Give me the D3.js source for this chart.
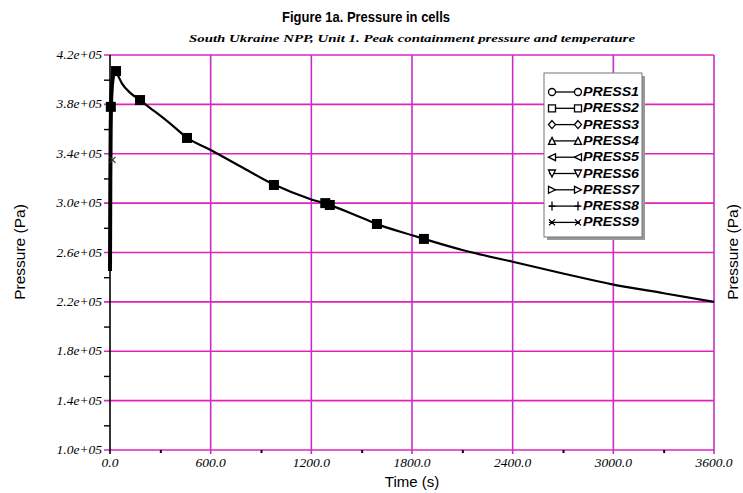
<!DOCTYPE html>
<html>
<head>
<meta charset="utf-8">
<script src="https://cdn.jsdelivr.net/npm/d3@7"></script>
<style>
  html, body { margin: 0; padding: 0; background: #fff; }
  svg { display: block; }
</style>
</head>
<body>
<svg id="chart" width="743" height="493"></svg>
<script>
// ---- data ----
const curveTime = [0, 2, 4, 6, 10, 15, 22, 30, 45, 71, 119, 179, 240, 298, 380, 459, 600, 800, 977, 1200, 1300, 1450, 1591, 1800, 1871, 2100, 2400, 2700, 3000, 3300, 3600];
const curvePressure = [2.45e5, 3.2e5, 3.6e5, 3.78e5, 3.92e5, 4.0e5, 4.05e5, 4.07e5, 4.04e5, 3.97e5, 3.895e5, 3.835e5, 3.77e5, 3.71e5, 3.62e5, 3.53e5, 3.43e5, 3.28e5, 3.15e5, 3.03e5, 2.99e5, 2.91e5, 2.83e5, 2.74e5, 2.71e5, 2.62e5, 2.525e5, 2.43e5, 2.34e5, 2.27e5, 2.20e5];
const markerTime = [5, 36, 179, 459, 977, 1283, 1310, 1591, 1871];
const markerPressure = [3.78e5, 4.07e5, 3.835e5, 3.528e5, 3.147e5, 3.0e5, 2.985e5, 2.831e5, 2.71e5];
const crossTime = [15];
const crossPressure = [3.35e5];
const seriesNames = ["PRESS1", "PRESS2", "PRESS3", "PRESS4", "PRESS5", "PRESS6", "PRESS7", "PRESS8", "PRESS9"];
const seriesSymbols = ["circle", "square", "diamond", "triangle", "left", "down", "right", "plus", "cross"];
const xTicks = [0, 600, 1200, 1800, 2400, 3000, 3600];
const xMinorTicks = [300, 900, 1500, 2100, 2700, 3300];
const yTicks = [1.0e5, 1.4e5, 1.8e5, 2.2e5, 2.6e5, 3.0e5, 3.4e5, 3.8e5, 4.2e5];
const yMinorTicks = [1.2e5, 1.6e5, 2.0e5, 2.4e5, 2.8e5, 3.2e5, 3.6e5, 4.0e5];
const titleText = "Figure 1a. Pressure in cells";
const subtitleText = "South Ukraine NPP, Unit 1. Peak containment pressure and temperature";
const xTitle = "Time (s)";
const yTitle = "Pressure (Pa)";

// ---- layout ----
const svg = d3.select("#chart");
const L = 110, R = 714, T = 55, B = 450;
const x = d3.scaleLinear().domain([0, 3600]).range([L, R]);
const y = d3.scaleLinear().domain([1.0e5, 4.2e5]).range([B, T]);
const hGrid = "#e024bd", vGrid = "#c82fc8";
const serif = "'Liberation Serif', 'DejaVu Serif', serif";
const sans = "'Liberation Sans', Arial, sans-serif";

// titles
svg.append("text").attr("x", 366).attr("y", 22).attr("text-anchor", "middle")
  .attr("font-family", sans).attr("font-weight", "bold").attr("font-size", 15)
  .attr("textLength", 168).attr("lengthAdjust", "spacingAndGlyphs")
  .text(titleText);
svg.append("text").attr("x", 412).attr("y", 42).attr("text-anchor", "middle")
  .attr("font-family", serif).attr("font-weight", "bold").attr("font-style", "italic").attr("font-size", 11)
  .attr("textLength", 446).attr("lengthAdjust", "spacingAndGlyphs")
  .text(subtitleText);

// grid
const g = svg.append("g");
g.selectAll(".hg").data(yTicks).join("line")
  .attr("x1", L - 6).attr("x2", R).attr("y1", d => y(d)).attr("y2", d => y(d))
  .attr("stroke", hGrid).attr("stroke-width", 1.6);
g.selectAll(".vg").data(xTicks.slice(1)).join("line")
  .attr("x1", d => x(d)).attr("x2", d => x(d)).attr("y1", T).attr("y2", B + 4)
  .attr("stroke", vGrid).attr("stroke-width", 1.6);

// axes
const yAxis = d3.axisLeft(y).tickValues(yMinorTicks).tickSize(6).tickFormat("");
const ya = svg.append("g").attr("transform", `translate(${L},0)`).call(yAxis);
ya.select(".domain").attr("stroke", "#000").attr("stroke-width", 1.6).attr("d", `M0,${T}V${B + 4}`);
ya.selectAll(".tick line").attr("stroke", "#000").attr("stroke-width", 1.4);

const xAxis = d3.axisBottom(x).tickValues(xMinorTicks).tickSize(3).tickFormat("");
const xa = svg.append("g").attr("transform", `translate(0,${B})`).call(xAxis);
xa.select(".domain").remove();
xa.selectAll(".tick line").attr("stroke", "#000").attr("stroke-width", 2);

// tick labels
svg.append("g").selectAll("text").data(yTicks).join("text")
  .attr("x", L - 8).attr("y", d => y(d) + 4).attr("text-anchor", "end")
  .attr("font-family", serif).attr("font-style", "italic").attr("font-size", 13.5)
  .text(d => (d / 1e5).toFixed(1) + "e+05");
svg.append("g").selectAll("text").data(xTicks).join("text")
  .attr("x", d => x(d)).attr("y", B + 17).attr("text-anchor", "middle")
  .attr("font-family", serif).attr("font-style", "italic").attr("font-size", 13.5)
  .text(d => d.toFixed(1));

// axis titles
svg.append("text").attr("x", 412).attr("y", 487).attr("text-anchor", "middle")
  .attr("font-family", sans).attr("font-size", 15).text(xTitle);
svg.append("text").attr("transform", "translate(25,252) rotate(-90)").attr("text-anchor", "middle")
  .attr("font-family", sans).attr("font-size", 15.5).text(yTitle);
svg.append("text").attr("transform", "translate(738,252) rotate(-90)").attr("text-anchor", "middle")
  .attr("font-family", sans).attr("font-size", 15.5).text(yTitle);

// curve
const pts = curveTime.map((t, i) => [t, curvePressure[i]]);
const line = d3.line().x(d => x(d[0])).y(d => y(d[1])).curve(d3.curveMonotoneX);
svg.append("path").datum(pts).attr("d", line)
  .attr("fill", "none").attr("stroke", "#000").attr("stroke-width", 2.2);
// thicker early ramp (overlapping cells)
svg.append("path").datum(pts.slice(0, 8)).attr("d", line)
  .attr("fill", "none").attr("stroke", "#000").attr("stroke-width", 4);

// markers
svg.append("g").selectAll("rect").data(markerTime.map((t, i) => [t, markerPressure[i]])).join("rect")
  .attr("x", d => x(d[0]) - 5).attr("y", d => y(d[1]) - 5).attr("width", 10).attr("height", 10)
  .attr("fill", "#000");
svg.append("g").selectAll("path").data(crossTime.map((t, i) => [t, crossPressure[i]])).join("path")
  .attr("d", d => { const cx = x(d[0]), cy = y(d[1]); return `M${cx-3},${cy-3}L${cx+3},${cy+3}M${cx-3},${cy+3}L${cx+3},${cy-3}`; })
  .attr("stroke", "#333").attr("stroke-width", 1.2);

// legend
const lx = 544, ly = 73, lw = 98, lh = 164;
svg.append("rect").attr("x", lx + 3).attr("y", ly + 3).attr("width", lw).attr("height", lh).attr("fill", "#999");
svg.append("rect").attr("x", lx).attr("y", ly).attr("width", lw).attr("height", lh)
  .attr("fill", "#fff").attr("stroke", "#777").attr("stroke-width", 1);
function sym(s, cx, cy) {
  const r = 3.5;
  switch (s) {
    case "circle": return `M${cx+r},${cy}A${r},${r} 0 1,1 ${cx-r},${cy}A${r},${r} 0 1,1 ${cx+r},${cy}Z`;
    case "square": return `M${cx-r},${cy-r}h${2*r}v${2*r}h${-2*r}Z`;
    case "diamond": return `M${cx},${cy-r-0.5}L${cx+r},${cy}L${cx},${cy+r+0.5}L${cx-r},${cy}Z`;
    case "triangle": return `M${cx},${cy-r}L${cx+r},${cy+r}L${cx-r},${cy+r}Z`;
    case "down": return `M${cx},${cy+r}L${cx+r},${cy-r}L${cx-r},${cy-r}Z`;
    case "left": return `M${cx-r},${cy}L${cx+r},${cy-r}L${cx+r},${cy+r}Z`;
    case "right": return `M${cx+r},${cy}L${cx-r},${cy-r}L${cx-r},${cy+r}Z`;
    case "plus": return `M${cx-r},${cy}H${cx+r}M${cx},${cy-r-1}V${cy+r+1}`;
    case "cross": return `M${cx-r+0.5},${cy-r+0.5}L${cx+r-0.5},${cy+r-0.5}M${cx-r+0.5},${cy+r-0.5}L${cx+r-0.5},${cy-r+0.5}`;
  }
}
const leg = svg.append("g").selectAll("g").data(seriesNames).join("g")
  .attr("transform", (d, i) => `translate(0,${ly + 19 + i * 16.3})`);
leg.append("line").attr("x1", lx + 5).attr("x2", lx + 36).attr("y1", 0).attr("y2", 0)
  .attr("stroke", "#000").attr("stroke-width", 1.3);
leg.append("path").attr("d", (d, i) => sym(seriesSymbols[i], lx + 8, 0) + sym(seriesSymbols[i], lx + 34, 0))
  .attr("fill", "#fff").attr("stroke", "#000").attr("stroke-width", 1.3);
leg.append("text").attr("x", lx + 39).attr("y", 4)
  .attr("font-family", sans).attr("font-style", "italic").attr("font-weight", "bold").attr("font-size", 12)
  .attr("textLength", 56).attr("lengthAdjust", "spacingAndGlyphs")
  .text(d => d);
</script>
</body>
</html>
